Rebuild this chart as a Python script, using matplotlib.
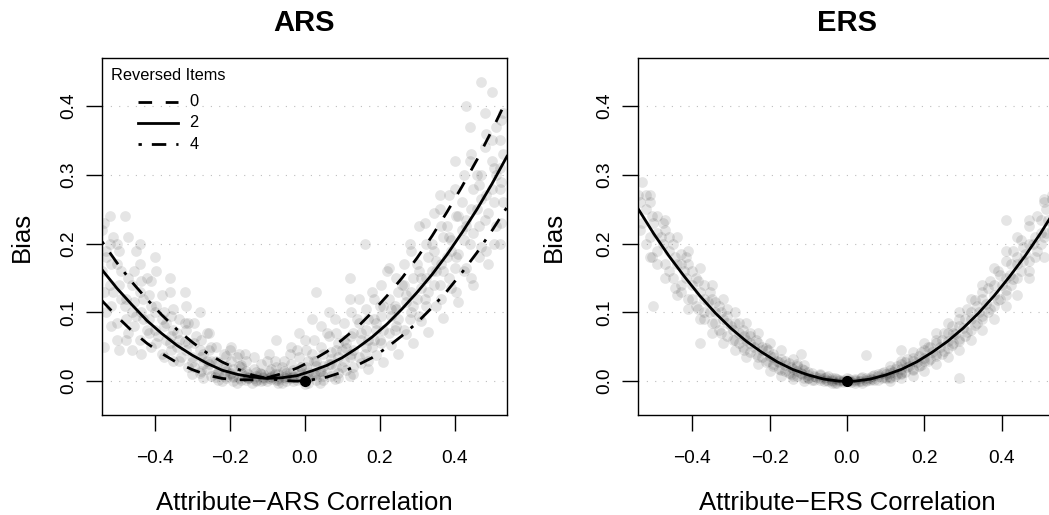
import matplotlib
matplotlib.use("Agg")
import matplotlib.pyplot as plt
from matplotlib.lines import Line2D

plt.rcParams['font.family'] = ['Liberation Sans', 'DejaVu Sans']

# ---------------- data ----------------
X_TICKS = [-0.4, -0.2, 0.0, 0.2, 0.4]
X_TICK_LABELS = ["\u22120.4", "\u22120.2", "0.0", "0.2", "0.4"]
Y_TICKS = [0.0, 0.1, 0.2, 0.3, 0.4]
Y_TICK_LABELS = ["0.0", "0.1", "0.2", "0.3", "0.4"]
TITLES = ["ARS", "ERS"]
X_LABELS = ["Attribute\u2212ARS Correlation", "Attribute\u2212ERS Correlation"]
Y_LABEL = "Bias"
LEGEND_TITLE = "Reversed Items"
LEGEND_LABELS = ["0", "2", "4"]

# fitted curves
CURVE_X = [-0.54, -0.50, -0.46, -0.42, -0.38, -0.34, -0.30, -0.26, -0.22, -0.18,
           -0.14, -0.10, -0.06, -0.02, 0.02, 0.06, 0.10, 0.14, 0.18, 0.22,
           0.26, 0.30, 0.34, 0.38, 0.42, 0.46, 0.50, 0.54]
ARS_FIT_0 = [0.117, 0.094, 0.073, 0.055, 0.040, 0.027, 0.017, 0.009, 0.004, 0.002,
             0.002, 0.005, 0.011, 0.019, 0.030, 0.043, 0.060, 0.078, 0.100, 0.124,
             0.150, 0.179, 0.211, 0.246, 0.283, 0.322, 0.365, 0.410]
ARS_FIT_2 = [0.162, 0.135, 0.111, 0.088, 0.069, 0.052, 0.038, 0.026, 0.016, 0.010,
             0.006, 0.004, 0.005, 0.008, 0.015, 0.023, 0.034, 0.048, 0.064, 0.083,
             0.105, 0.129, 0.155, 0.184, 0.216, 0.250, 0.287, 0.327]
ARS_FIT_4 = [0.203, 0.172, 0.144, 0.119, 0.096, 0.075, 0.057, 0.041, 0.028, 0.018,
             0.009, 0.004, 0.001, 0.000, 0.002, 0.006, 0.013, 0.023, 0.034, 0.049,
             0.066, 0.085, 0.107, 0.131, 0.158, 0.187, 0.219, 0.253]
ERS_FIT = [0.251, 0.215, 0.182, 0.152, 0.124, 0.099, 0.077, 0.058, 0.042, 0.028,
           0.017, 0.009, 0.003, 0.000, 0.000, 0.003, 0.009, 0.017, 0.028, 0.042,
           0.058, 0.077, 0.099, 0.124, 0.152, 0.182, 0.215, 0.251]

# simulated results (scatter)
ARS_PTS = [
    (-0.53, 0.10), (-0.51, 0.13), (-0.50, 0.085), (-0.48, 0.11), (-0.47, 0.07), (-0.45, 0.095),
    (-0.44, 0.06), (-0.42, 0.075), (-0.41, 0.05), (-0.39, 0.065), (-0.38, 0.04), (-0.36, 0.055),
    (-0.35, 0.03), (-0.33, 0.035), (-0.31, 0.02), (-0.30, 0.028), (-0.28, 0.012), (-0.26, 0.018),
    (-0.25, 0.008), (-0.23, 0.012), (-0.21, 0.004), (-0.19, 0.006), (-0.17, 0.001), (-0.15, 0.004),
    (-0.13, 0.002), (-0.11, 0.006), (-0.09, 0.003), (-0.07, 0.010), (-0.05, 0.008), (-0.03, 0.016),
    (-0.01, 0.012), (0.01, 0.030), (0.03, 0.022), (0.05, 0.040), (0.07, 0.032), (0.09, 0.055),
    (0.11, 0.048), (0.13, 0.070), (0.15, 0.060), (0.17, 0.090), (0.19, 0.075), (0.21, 0.110),
    (0.23, 0.095), (0.25, 0.130), (0.27, 0.115), (0.29, 0.150), (0.31, 0.135), (0.33, 0.180),
    (0.35, 0.160), (0.37, 0.210), (0.39, 0.190), (0.41, 0.240), (0.43, 0.225), (0.45, 0.280),
    (0.47, 0.300), (0.48, 0.340), (0.50, 0.320), (0.51, 0.370), (0.52, 0.350), (0.53, 0.390),
    (0.47, 0.435), (0.50, 0.420), (0.44, 0.370), (0.40, 0.320), (0.36, 0.270), (0.32, 0.230),
    (0.28, 0.200), (0.22, 0.160), (0.18, 0.130), (0.12, 0.120), (0.08, 0.090), (0.03, 0.130),
    (0.00, 0.060), (-0.04, 0.040),
    (-0.54, 0.16), (-0.53, 0.19), (-0.52, 0.14), (-0.50, 0.17), (-0.49, 0.12), (-0.47, 0.15),
    (-0.46, 0.10), (-0.44, 0.13), (-0.43, 0.09), (-0.41, 0.11), (-0.40, 0.075), (-0.38, 0.09),
    (-0.37, 0.06), (-0.35, 0.075), (-0.34, 0.05), (-0.32, 0.058), (-0.30, 0.035), (-0.28, 0.045),
    (-0.27, 0.025), (-0.25, 0.03), (-0.23, 0.015), (-0.21, 0.022), (-0.19, 0.008), (-0.17, 0.012),
    (-0.15, 0.004), (-0.13, 0.008), (-0.11, 0.002), (-0.09, 0.006), (-0.07, 0.004), (-0.05, 0.012),
    (-0.03, 0.008), (-0.01, 0.020), (0.01, 0.014), (0.03, 0.030), (0.05, 0.022), (0.07, 0.042),
    (0.09, 0.035), (0.11, 0.055), (0.13, 0.045), (0.15, 0.070), (0.17, 0.060), (0.19, 0.085),
    (0.21, 0.075), (0.23, 0.105), (0.25, 0.090), (0.27, 0.125), (0.29, 0.110), (0.31, 0.150),
    (0.33, 0.130), (0.35, 0.175), (0.37, 0.160), (0.39, 0.205), (0.41, 0.185), (0.43, 0.235),
    (0.45, 0.215), (0.47, 0.265), (0.49, 0.245), (0.51, 0.300), (0.52, 0.280), (0.53, 0.330),
    (0.50, 0.350), (0.46, 0.300), (0.42, 0.260), (0.38, 0.225), (0.34, 0.200), (0.30, 0.170),
    (0.26, 0.140), (0.20, 0.110), (0.14, 0.090), (0.06, 0.070), (-0.02, 0.045), (-0.10, 0.030),
    (-0.20, 0.045), (-0.31, 0.085), (-0.42, 0.150), (-0.51, 0.210),
    (-0.54, 0.22), (-0.53, 0.18), (-0.52, 0.24), (-0.50, 0.20), (-0.49, 0.16), (-0.47, 0.21),
    (-0.46, 0.14), (-0.44, 0.17), (-0.43, 0.12), (-0.41, 0.145), (-0.40, 0.10), (-0.38, 0.125),
    (-0.37, 0.085), (-0.35, 0.105), (-0.34, 0.07), (-0.32, 0.085), (-0.31, 0.055), (-0.29, 0.065),
    (-0.27, 0.04), (-0.25, 0.05), (-0.23, 0.028), (-0.21, 0.036), (-0.19, 0.018), (-0.17, 0.024),
    (-0.15, 0.010), (-0.13, 0.014), (-0.11, 0.004), (-0.09, 0.008), (-0.07, 0.001), (-0.05, 0.004),
    (-0.03, 0.000), (-0.01, 0.003), (0.01, -0.002), (0.03, 0.002), (0.05, 0.001), (0.07, 0.008),
    (0.09, 0.004), (0.11, 0.016), (0.13, 0.010), (0.15, 0.026), (0.17, 0.018), (0.19, 0.038),
    (0.21, 0.028), (0.23, 0.052), (0.25, 0.040), (0.27, 0.068), (0.29, 0.055), (0.31, 0.088),
    (0.33, 0.072), (0.35, 0.110), (0.37, 0.092), (0.39, 0.135), (0.41, 0.115), (0.43, 0.165),
    (0.45, 0.140), (0.47, 0.195), (0.49, 0.170), (0.51, 0.225), (0.52, 0.200), (0.53, 0.260),
    (0.48, 0.235), (0.44, 0.200), (0.40, 0.165), (0.36, 0.140), (0.32, 0.120), (0.28, 0.090),
    (0.24, 0.075), (0.18, 0.050), (0.12, 0.035), (0.04, 0.015), (-0.06, 0.020), (-0.16, 0.040),
    (-0.26, 0.070), (-0.36, 0.130), (-0.45, 0.190),
    (-0.24, 0.006), (-0.22, 0.000), (-0.20, 0.010), (-0.18, -0.003), (-0.16, 0.008), (-0.14, -0.002),
    (-0.12, 0.012), (-0.10, 0.000), (-0.08, 0.010), (-0.06, -0.003), (-0.04, 0.012), (-0.02, 0.002),
    (0.00, -0.004), (0.02, 0.008), (0.04, -0.002), (0.06, 0.012), (0.08, 0.003), (0.10, 0.020),
    (0.12, 0.008), (-0.21, 0.015), (-0.17, 0.020), (-0.13, 0.000), (-0.09, 0.018), (-0.05, 0.000),
    (-0.01, 0.020), (0.03, 0.010), (0.07, 0.025),
    (-0.30, 0.010), (-0.27, 0.005), (-0.23, 0.002), (-0.19, 0.000), (-0.15, 0.006), (-0.11, 0.010),
    (-0.07, -0.002), (-0.03, 0.006), (0.01, 0.004), (0.05, 0.008), (0.09, 0.012), (0.13, 0.020),
    (0.17, 0.030), (-0.26, 0.030), (-0.18, 0.035), (-0.08, 0.030), (0.02, 0.040), (0.10, 0.045),
    (0.16, 0.040), (0.20, 0.060), (0.24, 0.110), (0.30, 0.120), (0.34, 0.160), (0.38, 0.180),
    (0.42, 0.220), (0.46, 0.250), (0.50, 0.280), (0.52, 0.310), (0.36, 0.250), (0.40, 0.280),
    (0.44, 0.320), (0.48, 0.390), (0.43, 0.400), (-0.50, 0.060), (-0.46, 0.045), (-0.52, 0.200),
    (-0.48, 0.240), (-0.44, 0.200), (-0.40, 0.180), (-0.36, 0.150), (-0.32, 0.130), (-0.28, 0.100),
    (0.16, 0.200), (0.12, 0.150), (0.02, 0.090),
]
# additional ARS results, grouped by correlation value
ARS_COLUMNS = [
    (-0.535, [0.05, 0.13, 0.23]), (-0.515, [0.08, 0.17, 0.11]), (-0.495, [0.045, 0.14, 0.19]),
    (-0.475, [0.09, 0.12, 0.06]), (-0.455, [0.16, 0.08, 0.115]), (-0.435, [0.04, 0.10, 0.145]),
    (-0.415, [0.07, 0.125, 0.09]), (-0.395, [0.055, 0.11, 0.16]), (-0.375, [0.08, 0.035, 0.10]),
    (-0.355, [0.065, 0.095, 0.045]), (-0.335, [0.09, 0.03, 0.06]), (-0.315, [0.045, 0.075, 0.11]),
    (-0.295, [0.02, 0.055, 0.085]), (-0.275, [0.035, 0.06, 0.015]), (-0.255, [0.045, 0.025, 0.07]),
    (-0.235, [0.01, 0.03, 0.05]), (-0.215, [0.02, 0.04, 0.008]), (-0.195, [0.03, 0.012, 0.05]),
    (-0.175, [0.005, 0.022, 0.04]), (-0.155, [0.015, 0.03, 0.002]), (-0.135, [0.005, 0.018, 0.035]),
    (-0.115, [0.01, 0.025, 0.0]), (-0.095, [0.015, 0.004, 0.04]), (-0.075, [0.02, 0.002, 0.06]),
    (-0.055, [0.006, 0.03, 0.015]), (-0.035, [0.025, 0.004, 0.05]), (-0.015, [0.01, 0.035, 0.07]),
    (0.005, [0.02, 0.045, 0.005]), (0.025, [0.03, 0.06, 0.01]), (0.045, [0.015, 0.05, 0.08]),
    (0.065, [0.025, 0.065, 0.10]), (0.085, [0.02, 0.07, 0.045]), (0.105, [0.03, 0.085, 0.06]),
    (0.125, [0.04, 0.10, 0.065]), (0.145, [0.035, 0.085, 0.12]), (0.165, [0.05, 0.105, 0.075]),
    (0.185, [0.06, 0.12, 0.09]), (0.205, [0.055, 0.095, 0.14]), (0.225, [0.07, 0.12, 0.165]),
    (0.245, [0.08, 0.105, 0.15]), (0.265, [0.075, 0.14, 0.17]), (0.285, [0.10, 0.13, 0.19]),
    (0.305, [0.095, 0.16, 0.225]), (0.325, [0.11, 0.15, 0.20]), (0.345, [0.14, 0.19, 0.245]),
    (0.365, [0.12, 0.17, 0.225]), (0.385, [0.15, 0.21, 0.27]), (0.405, [0.13, 0.18, 0.24]),
    (0.425, [0.16, 0.205, 0.30]), (0.445, [0.15, 0.25, 0.33]), (0.465, [0.18, 0.225, 0.285]),
    (0.485, [0.19, 0.27, 0.36]), (0.505, [0.20, 0.26, 0.31]), (0.525, [0.23, 0.29, 0.38]),
]

ERS_PTS = [
    (-0.54, 0.27), (-0.53, 0.23), (-0.53, 0.29), (-0.52, 0.25), (-0.51, 0.21), (-0.51, 0.26),
    (-0.50, 0.23), (-0.49, 0.19), (-0.49, 0.24), (-0.48, 0.21), (-0.47, 0.17), (-0.47, 0.22),
    (-0.46, 0.19), (-0.45, 0.15), (-0.45, 0.20), (-0.44, 0.17), (-0.43, 0.14), (-0.43, 0.185),
    (-0.42, 0.16), (-0.41, 0.12), (-0.41, 0.17), (-0.40, 0.14), (-0.39, 0.11), (-0.39, 0.15),
    (-0.38, 0.13), (-0.37, 0.10), (-0.37, 0.14), (-0.36, 0.115), (-0.35, 0.085), (-0.35, 0.12),
    (-0.34, 0.10), (-0.33, 0.075), (-0.33, 0.11), (-0.32, 0.09), (-0.31, 0.065), (-0.31, 0.095),
    (-0.30, 0.08), (-0.29, 0.06), (-0.29, 0.085), (-0.28, 0.07), (-0.27, 0.05), (-0.27, 0.075),
    (-0.26, 0.06), (-0.25, 0.042), (-0.25, 0.065), (-0.24, 0.05), (-0.23, 0.035), (-0.23, 0.055),
    (-0.22, 0.045), (-0.21, 0.028), (-0.21, 0.048), (-0.20, 0.036), (-0.19, 0.022), (-0.19, 0.04),
    (-0.18, 0.03), (-0.17, 0.016), (-0.17, 0.032), (-0.16, 0.024), (-0.15, 0.012), (-0.15, 0.026),
    (-0.14, 0.018), (-0.13, 0.008), (-0.13, 0.022), (-0.12, 0.012), (-0.11, 0.005), (-0.11, 0.016),
    (-0.10, 0.009), (-0.09, 0.002), (-0.09, 0.012), (-0.08, 0.006), (-0.07, 0.001), (-0.07, 0.009),
    (-0.06, 0.004), (-0.05, 0.000), (-0.05, 0.007), (-0.04, 0.002), (-0.03, -0.002), (-0.03, 0.005),
    (-0.02, 0.001), (-0.01, 0.000), (0.00, 0.004), (0.01, -0.001), (0.02, 0.003), (0.03, 0.000),
    (0.04, 0.006), (0.05, 0.002), (0.05, 0.038), (0.06, 0.005), (0.07, 0.009), (0.07, 0.002),
    (0.08, 0.007), (0.09, 0.012), (0.09, 0.004), (0.10, 0.010), (0.11, 0.016), (0.11, 0.006),
    (0.12, 0.013), (0.13, 0.022), (0.13, 0.010), (0.14, 0.018), (0.15, 0.028), (0.15, 0.014),
    (0.16, 0.022), (0.17, 0.034), (0.17, 0.018), (0.18, 0.028), (0.19, 0.042), (0.19, 0.024),
    (0.20, 0.034), (0.21, 0.050), (0.21, 0.030), (0.22, 0.042), (0.23, 0.060), (0.23, 0.036),
    (0.24, 0.050), (0.25, 0.070), (0.25, 0.044), (0.26, 0.058), (0.27, 0.080), (0.27, 0.052),
    (0.28, 0.068), (0.29, 0.090), (0.29, 0.062), (0.30, 0.078), (0.31, 0.105), (0.31, 0.072),
    (0.32, 0.090), (0.33, 0.118), (0.33, 0.082), (0.34, 0.100), (0.35, 0.130), (0.35, 0.095),
    (0.36, 0.112), (0.37, 0.145), (0.37, 0.105), (0.38, 0.125), (0.39, 0.160), (0.39, 0.118),
    (0.40, 0.140), (0.41, 0.175), (0.41, 0.132), (0.42, 0.155), (0.43, 0.190), (0.43, 0.148),
    (0.44, 0.170), (0.45, 0.205), (0.45, 0.160), (0.46, 0.185), (0.47, 0.225), (0.47, 0.175),
    (0.48, 0.200), (0.49, 0.240), (0.49, 0.190), (0.50, 0.215), (0.51, 0.260), (0.51, 0.210),
    (0.52, 0.235), (0.53, 0.270), (0.53, 0.220), (0.54, 0.250), (0.41, 0.235), (-0.50, 0.11),
    (-0.38, 0.056), (0.29, 0.005), (-0.12, 0.040), (0.14, 0.045),
    (-0.06, 0.000), (-0.02, 0.000), (0.02, 0.000), (0.06, 0.001), (0.10, 0.004), (-0.10, 0.004),
    (-0.14, 0.008), (0.14, 0.010), (0.00, 0.000), (0.04, -0.003), (-0.04, -0.003),
]
ERS_COLUMNS = [
    (-0.535, [0.22, 0.26]), (-0.52, [0.27, 0.20]), (-0.505, [0.24, 0.18]), (-0.49, [0.215, 0.17]),
    (-0.475, [0.20, 0.23]), (-0.46, [0.16, 0.21]), (-0.445, [0.18, 0.135]), (-0.43, [0.17, 0.13]),
    (-0.415, [0.15, 0.18]), (-0.40, [0.12, 0.16]), (-0.385, [0.145, 0.105]), (-0.37, [0.12, 0.09]),
    (-0.355, [0.13, 0.10]), (-0.34, [0.085, 0.115]), (-0.325, [0.10, 0.07]), (-0.31, [0.085, 0.105]),
    (-0.295, [0.075, 0.06]), (-0.28, [0.085, 0.055]), (-0.265, [0.065, 0.045]), (-0.25, [0.055, 0.07]),
    (-0.235, [0.04, 0.06]), (-0.22, [0.05, 0.035]), (-0.205, [0.03, 0.045]), (-0.19, [0.035, 0.025]),
    (-0.175, [0.028, 0.018]), (-0.16, [0.03, 0.015]), (-0.145, [0.02, 0.01]), (-0.13, [0.015, 0.025]),
    (-0.115, [0.01, 0.018]), (-0.10, [0.005, 0.014]), (-0.085, [0.008, 0.002]), (-0.07, [0.004, 0.01]),
    (-0.055, [0.002, 0.006]), (-0.04, [0.0, 0.004]), (-0.025, [0.003, -0.002]), (-0.01, [0.002, -0.001]),
    (0.005, [0.0, 0.003]), (0.02, [0.001, -0.002]), (0.035, [0.004, 0.0]), (0.05, [0.005, 0.0]),
    (0.065, [0.003, 0.008]), (0.08, [0.01, 0.002]), (0.095, [0.006, 0.014]), (0.11, [0.012, 0.004]),
    (0.125, [0.018, 0.008]), (0.14, [0.012, 0.025]), (0.155, [0.02, 0.032]), (0.17, [0.016, 0.03]),
    (0.185, [0.036, 0.022]), (0.20, [0.03, 0.045]), (0.215, [0.05, 0.032]), (0.23, [0.04, 0.055]),
    (0.245, [0.06, 0.04]), (0.26, [0.048, 0.07]), (0.275, [0.07, 0.055]), (0.29, [0.08, 0.058]),
    (0.305, [0.065, 0.09]), (0.32, [0.10, 0.075]), (0.335, [0.085, 0.11]), (0.35, [0.09, 0.12]),
    (0.365, [0.10, 0.135]), (0.38, [0.11, 0.14]), (0.395, [0.12, 0.155]), (0.41, [0.15, 0.125]),
    (0.425, [0.14, 0.17]), (0.44, [0.15, 0.18]), (0.455, [0.175, 0.195]), (0.47, [0.16, 0.20]),
    (0.485, [0.21, 0.18]), (0.50, [0.20, 0.235]), (0.515, [0.25, 0.215]), (0.53, [0.23, 0.265]),
    # wider spread of the band
    (-0.51, [0.18, 0.27]), (-0.47, [0.15, 0.235]), (-0.44, [0.125, 0.21]), (-0.41, [0.105, 0.19]),
    (-0.38, [0.09, 0.165]), (-0.35, [0.07, 0.14]), (-0.32, [0.055, 0.12]), (-0.29, [0.045, 0.10]),
    (-0.26, [0.035, 0.085]), (-0.23, [0.025, 0.07]), (-0.20, [0.015, 0.055]), (-0.17, [0.008, 0.045]),
    (-0.14, [0.003, 0.032]), (-0.11, [0.0, 0.024]), (0.11, [0.0, 0.022]), (0.14, [0.004, 0.03]),
    (0.17, [0.008, 0.042]), (0.20, [0.015, 0.055]), (0.23, [0.025, 0.07]), (0.26, [0.035, 0.085]),
    (0.29, [0.045, 0.10]), (0.32, [0.06, 0.12]), (0.35, [0.075, 0.14]), (0.38, [0.09, 0.165]),
    (0.41, [0.11, 0.19]), (0.44, [0.125, 0.21]), (0.47, [0.15, 0.235]), (0.51, [0.18, 0.265]),
]

# true-value reference points
ORIGIN_X = [0.0]
ORIGIN_Y = [0.0]


def collect(pts, cols):
    xs = [p[0] for p in pts]
    ys = [p[1] for p in pts]
    for xv, yl in cols:
        for yv in yl:
            xs.append(xv)
            ys.append(yv)
    return xs, ys


# ---------------- styling ----------------
LW = 2.0
STYLES = {
    "0": dict(linestyle=(0, (4.9, 4.9))),
    "2": dict(linestyle="-"),
    "4": dict(linestyle=(0, (1.2, 3.6, 5.2, 3.6))),
}
PT_COLOR = "black"
PT_ALPHA = 0.10
PT_SIZE = 60

W, H = 1049, 515
fig = plt.figure(figsize=(W / 100, H / 100), dpi=100)

ax_l = fig.add_axes([102 / W, 100 / H, 405 / W, 356.5 / H])
ax_r = fig.add_axes([638 / W, 100 / H, 418 / W, 356.5 / H])


def style_axes(ax, title, xlabel, ylab_off_px, width_px):
    ax.set_xlim(-0.54, 0.54)
    ax.set_ylim(-0.0492, 0.4692)
    for yv in Y_TICKS:
        ax.axhline(yv, color="#bdbdbd", lw=0.8, linestyle=(0, (1, 6.5)), zorder=0)
    ax.set_xticks(X_TICKS)
    ax.set_xticklabels(X_TICK_LABELS)
    ax.set_yticks(Y_TICKS)
    ax.set_yticklabels(Y_TICK_LABELS, rotation=90, va="center")
    ax.tick_params(axis="both", direction="out", length=11.5, width=1.0,
                   labelsize=13.8, color="black")
    ax.tick_params(axis="x", pad=14.0)
    ax.tick_params(axis="y", pad=6.0)
    for s in ax.spines.values():
        s.set_linewidth(1.0)
        s.set_color("black")
    ax.set_title(title, fontsize=21, fontweight="bold", y=1.077, pad=0)
    ax.set_xlabel(xlabel, fontsize=18.5)
    ax.xaxis.set_label_coords(0.5, -0.213)
    ax.set_ylabel(Y_LABEL, fontsize=18.5, va="center")
    ax.yaxis.set_label_coords(-ylab_off_px / width_px, 0.5)


# ---- ARS panel ----
ax_xs, ax_ys = collect(ARS_PTS, ARS_COLUMNS)
ax_l.scatter(ax_xs, ax_ys, s=PT_SIZE, c=PT_COLOR, alpha=PT_ALPHA, linewidths=0, zorder=1)
for lab, ys in zip(LEGEND_LABELS, [ARS_FIT_0, ARS_FIT_2, ARS_FIT_4]):
    ax_l.plot(CURVE_X, ys, color="black", lw=LW, zorder=3, **STYLES[lab])
ax_l.plot(ORIGIN_X, ORIGIN_Y, "o", color="black", ms=7, zorder=4)
style_axes(ax_l, TITLES[0], X_LABELS[0], 80, 405)

# legend (drawn in axes coordinates, no frame)
ax_l.text(0.0215, 0.9537, LEGEND_TITLE, transform=ax_l.transAxes,
          fontsize=11.8, ha="left", va="center")
leg_y = [0.8788, 0.8199, 0.7593]
for lab, yy in zip(LEGEND_LABELS, leg_y):
    ax_l.add_line(Line2D([0.0889, 0.1877], [yy, yy], transform=ax_l.transAxes,
                         color="black", lw=LW, **STYLES[lab]))
    ax_l.text(0.216, yy, lab, transform=ax_l.transAxes, fontsize=11.8,
              ha="left", va="center")

# ---- ERS panel ----
er_xs, er_ys = collect(ERS_PTS, ERS_COLUMNS)
ax_r.scatter(er_xs, er_ys, s=PT_SIZE, c=PT_COLOR, alpha=PT_ALPHA, linewidths=0, zorder=1)
ax_r.plot(CURVE_X, ERS_FIT, color="black", lw=LW, zorder=3)
ax_r.plot(ORIGIN_X, ORIGIN_Y, "o", color="black", ms=7, zorder=4)
style_axes(ax_r, TITLES[1], X_LABELS[1], 84, 418)

fig.savefig("out.png", dpi=100)
